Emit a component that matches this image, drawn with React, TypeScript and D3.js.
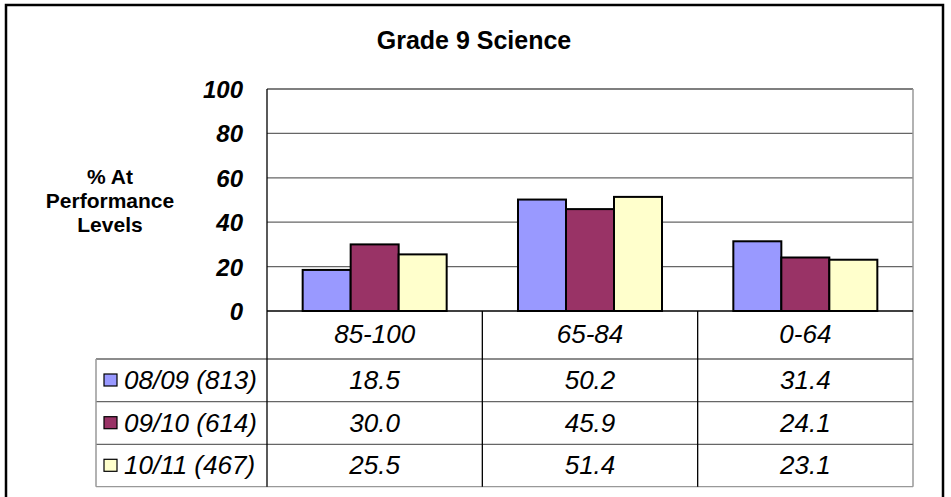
import React from 'react';
import * as d3 from 'd3';

const categories = ['85-100', '65-84', '0-64'];
const seriesNames = ['08/09 (813)', '09/10 (614)', '10/11 (467)'];
const seriesColors = ['#9999FF', '#993366', '#FFFFCC'];
const values08 = [18.5, 50.2, 31.4];
const values09 = [30.0, 45.9, 24.1];
const values10 = [25.5, 51.4, 23.1];
const yTicks = [0, 20, 40, 60, 80, 100];

const seriesValues = [values08, values09, values10];

const width = 951;
const height = 497;
const font = 'Arial, "Liberation Sans", sans-serif';

// plot area
const plot = { left: 267, right: 913, top: 89, bottom: 311 };
// table rows (below the axis)
const tableLeft = 96;
const rowTops = [359, 401.7, 444.3, 486.7];

export default function App() {
  const x0 = d3.scaleBand<string>()
    .domain(categories)
    .range([plot.left, plot.right]);
  const x1 = d3.scaleBand<string>()
    .domain(seriesNames)
    .range([0, x0.bandwidth()])
    .paddingOuter(0.743);
  const y = d3.scaleLinear().domain([0, 100]).range([plot.bottom, plot.top]);

  const colEdges = [plot.left, ...categories.map(c => (x0(c) as number) + x0.bandwidth())];

  return (
    <svg width={width} height={height} style={{ position: 'absolute', left: 0, top: 0, background: '#fff' }}
      fontFamily={font}>
      {/* outer frame */}
      <rect x={6} y={5} width={937} height={520} fill="#fff" stroke="#000" strokeWidth={2.5} />

      {/* title */}
      <text x={474} y={49} textAnchor="middle" fontSize={25} fontWeight="bold">Grade 9 Science</text>

      {/* y axis label */}
      <text x={110} y={184} textAnchor="middle" fontSize={21} fontWeight="bold">
        <tspan x={110}>% At</tspan>
        <tspan x={110} dy={24}>Performance</tspan>
        <tspan x={110} dy={24}>Levels</tspan>
      </text>

      {/* gridlines */}
      {yTicks.filter(t => t > 0).map(t => (
        <line key={t} x1={plot.left} x2={plot.right} y1={y(t)} y2={y(t)}
          stroke={t === 100 ? '#555' : '#666'} strokeWidth={1.3} />
      ))}
      <line x1={plot.right} x2={plot.right} y1={plot.top} y2={rowTops[3]} stroke="#999" strokeWidth={1.5} />

      {/* y tick labels */}
      {yTicks.map(t => (
        <text key={t} x={243} y={y(t) + 9} textAnchor="end" fontSize={24}
          fontWeight="bold" fontStyle="italic">{t}</text>
      ))}

      {/* bars */}
      {categories.map((c, ci) => (
        <g key={c} transform={`translate(${x0(c)},0)`}>
          {seriesNames.map((s, si) => (
            <rect key={s} x={x1(s)} y={y(seriesValues[si][ci])} width={x1.bandwidth()}
              height={y(0) - y(seriesValues[si][ci])} fill={seriesColors[si]}
              stroke="#000" strokeWidth={2} />
          ))}
        </g>
      ))}

      {/* table horizontal lines */}
      {rowTops.map((ry, i) => (
        <line key={i} x1={tableLeft} x2={plot.right} y1={ry} y2={ry}
          stroke={i === 3 ? '#999' : '#666'} strokeWidth={1.3} />
      ))}
      <line x1={tableLeft} x2={tableLeft} y1={rowTops[0]} y2={rowTops[3]} stroke="#999" strokeWidth={1.5} />
      {colEdges.slice(0, 3).map((cx, i) => (
        <line key={i} x1={cx} x2={cx} y1={i === 0 ? plot.top : plot.bottom} y2={rowTops[3]}
          stroke="#000" strokeWidth={1.3} />
      ))}

      {/* x axis */}
      <line x1={plot.left} x2={plot.right} y1={plot.bottom} y2={plot.bottom} stroke="#000" strokeWidth={1.5} />

      {/* category labels */}
      {categories.map(c => (
        <text key={c} x={(x0(c) as number) + x0.bandwidth() / 2} y={343} textAnchor="middle"
          fontSize={26} fontStyle="italic">{c}</text>
      ))}

      {/* table rows */}
      {seriesNames.map((s, si) => {
        const top = rowTops[si];
        const base = top + 30;
        return (
          <g key={s}>
            <rect x={104} y={top + 15} width={13} height={12} fill={seriesColors[si]} stroke="#000" strokeWidth={1.2} />
            <text x={124} y={base} fontSize={26} fontStyle="italic">{s}</text>
            {categories.map((c, ci) => (
              <text key={c} x={(x0(c) as number) + x0.bandwidth() / 2} y={base} textAnchor="middle"
                fontSize={26} fontStyle="italic">{seriesValues[si][ci].toFixed(1)}</text>
            ))}
          </g>
        );
      })}
    </svg>
  );
}
